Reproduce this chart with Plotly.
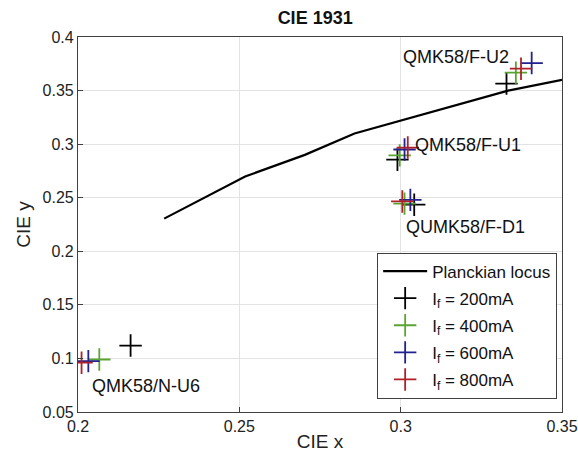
import plotly.graph_objects as go

# Planckian locus
locus_x = [0.2267, 0.2518, 0.2703, 0.2857, 0.3333, 0.35]
locus_y = [0.2305, 0.2698, 0.2900, 0.3100, 0.3500, 0.3600]

currents = ["200mA", "400mA", "600mA", "800mA"]
colors = ["#000000", "#5aa532", "#22228f", "#b0202a"]

# order of LEDs in each series: F-U2, F-U1, F-D1, N-U6
cie_x_200 = [0.3328, 0.2990, 0.3042, 0.2163]
cie_y_200 = [0.3565, 0.2855, 0.2435, 0.1120]
cie_x_400 = [0.3357, 0.2997, 0.3012, 0.2066]
cie_y_400 = [0.3667, 0.2895, 0.2445, 0.0990]
cie_x_600 = [0.3406, 0.3012, 0.3030, 0.2032]
cie_y_600 = [0.3757, 0.2950, 0.2480, 0.0975]
cie_x_800 = [0.3373, 0.3022, 0.3005, 0.2011]
cie_y_800 = [0.3704, 0.2968, 0.2465, 0.0960]

labels = ["QMK58/F-U2", "QMK58/F-U1", "QUMK58/F-D1", "QMK58/N-U6"]
label_x = [0.3170, 0.3208, 0.3200, 0.2210]
label_y = [0.3818, 0.2990, 0.2223, 0.0745]

xs = [cie_x_200, cie_x_400, cie_x_600, cie_x_800]
ys = [cie_y_200, cie_y_400, cie_y_600, cie_y_800]

FONT = "Liberation Sans, Arial, sans-serif"

fig = go.Figure()
fig.add_trace(go.Scatter(x=locus_x, y=locus_y, mode="lines",
                         line=dict(color="black", width=2.2),
                         name="Planckian locus", legendgroup="g0"))
for i, (cur, col, x, y) in enumerate(zip(currents, colors, xs, ys)):
    fig.add_trace(go.Scatter(
        x=x, y=y, mode="markers",
        marker=dict(symbol="cross-thin", size=16, color=col,
                    line=dict(color=col, width=1.8)),
        name="I<sub>f</sub> = " + cur, legendgroup="g%d" % (i + 1)))

for t, lx, ly in zip(labels, label_x, label_y):
    fig.add_annotation(x=lx, y=ly, text=t, showarrow=False,
                       font=dict(family=FONT, size=18, color="#111"))

axis_common = dict(
    showgrid=True, gridcolor="#e3e3e3", gridwidth=1,
    showline=True, linecolor="#404040", linewidth=1.2, mirror=True,
    ticks="inside", ticklen=5, tickcolor="#404040",
    zeroline=False, automargin=False,
    tickfont=dict(family=FONT, size=16, color="#222"),
)

fig.update_layout(
    width=578, height=466,
    margin=dict(l=78, r=16, t=37, b=54),
    paper_bgcolor="white", plot_bgcolor="white",
    title=dict(text="<b>CIE 1931</b>", x=0.49, xref="paper", xanchor="center",
               y=0.961, yanchor="middle",
               font=dict(family=FONT, size=18, color="#111")),
    xaxis=dict(range=[0.2, 0.35], tickvals=[0.2, 0.25, 0.3, 0.35],
               ticktext=["0.2", "0.25", "0.3", "0.35"],
               title=dict(text="CIE x", font=dict(family=FONT, size=19, color="#222"), standoff=0),
               **axis_common),
    yaxis=dict(range=[0.05, 0.4],
               tickvals=[0.05, 0.1, 0.15, 0.2, 0.25, 0.3, 0.35, 0.4],
               ticktext=["0.05", "0.1", "0.15", "0.2", "0.25", "0.3", "0.35", "0.4"],
               title=dict(text="CIE y", font=dict(family=FONT, size=19, color="#222"), standoff=6),
               **axis_common),
    legend=dict(x=0.99, y=0.036, xanchor="right", yanchor="bottom",
                bgcolor="white", bordercolor="#404040", borderwidth=1,
                font=dict(family=FONT, size=17, color="#111"),
                itemwidth=44, tracegroupgap=2),
    showlegend=True,
)

fig.write_html("out.html")
